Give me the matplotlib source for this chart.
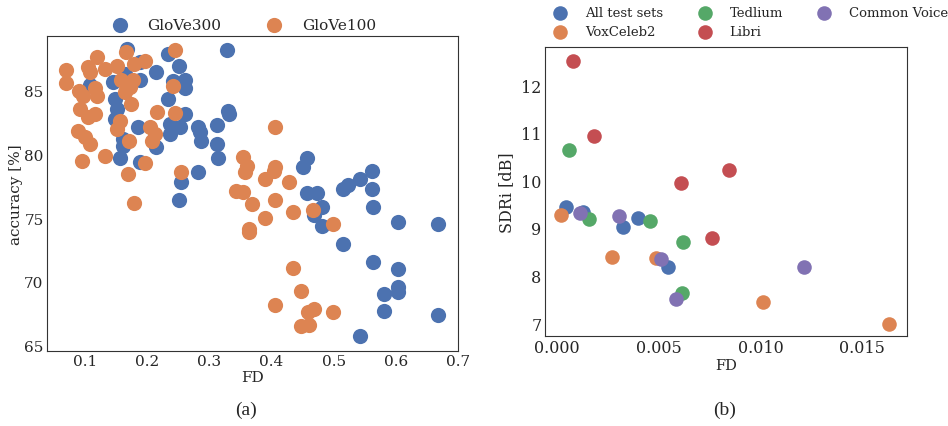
import matplotlib
matplotlib.use("Agg")
import matplotlib.pyplot as plt
import seaborn as sns

sns.set_style("white")
plt.rcParams['font.family'] = ['DejaVu Serif']

# ---------------- (a) data ----------------
glove300_fd = [0.168, 0.233, 0.328, 0.188, 0.251, 0.164, 0.214, 0.108, 0.145, 0.188,
               0.241, 0.261, 0.261, 0.148, 0.233, 0.151, 0.261, 0.330, 0.331, 0.148,
               0.185, 0.237, 0.253, 0.282, 0.312, 0.237, 0.285, 0.161, 0.287, 0.312,
               0.161, 0.214, 0.156, 0.188, 0.314, 0.282, 0.254, 0.251, 0.457, 0.450,
               0.457, 0.473, 0.515, 0.523, 0.542, 0.561, 0.561, 0.481, 0.468, 0.563,
               0.481, 0.603, 0.668, 0.515, 0.563, 0.603, 0.581, 0.603, 0.603, 0.581,
               0.668, 0.542]
glove300_acc = [88.3, 87.9, 88.2, 87.3, 87.0, 86.3, 86.5, 85.5, 85.7, 85.9,
                85.8, 85.9, 85.2, 84.4, 84.4, 83.6, 83.2, 83.4, 83.2, 82.8,
                82.2, 82.4, 82.2, 82.2, 82.3, 81.6, 81.8, 81.2, 81.1, 80.8,
                80.7, 80.6, 79.7, 79.4, 79.7, 78.6, 77.8, 76.4, 79.7, 79.0,
                77.0, 77.0, 77.3, 77.6, 78.1, 78.7, 77.3, 75.9, 75.2, 75.9,
                74.4, 74.7, 74.5, 72.95, 71.5, 71.0, 69.0, 69.6, 69.2, 67.7,
                67.4, 65.7]

glove100_fd = [0.166, 0.245, 0.119, 0.196, 0.179, 0.105, 0.108, 0.132, 0.151, 0.069,
               0.069, 0.158, 0.177, 0.241, 0.090, 0.116, 0.119, 0.097, 0.164, 0.172,
               0.092, 0.174, 0.116, 0.105, 0.216, 0.245, 0.156, 0.151, 0.205, 0.405,
               0.089, 0.100, 0.108, 0.2125, 0.208, 0.171, 0.095, 0.132, 0.196, 0.354,
               0.360, 0.357, 0.405, 0.389, 0.169, 0.254, 0.343, 0.354, 0.428, 0.404,
               0.179, 0.368, 0.405, 0.389, 0.364, 0.364, 0.434, 0.467, 0.499, 0.434,
               0.447, 0.405, 0.4585, 0.468, 0.499, 0.447, 0.460]
glove100_acc = [88.1, 88.2, 87.7, 87.4, 87.1, 86.9, 86.5, 86.7, 87.0, 86.65,
                85.6, 85.9, 85.9, 85.4, 85.0, 85.2, 84.6, 84.6, 84.9, 85.3,
                83.6, 84.0, 83.2, 82.95, 83.35, 83.3, 82.6, 82.0, 82.2, 82.2,
                81.85, 81.4, 80.8, 81.6, 81.1, 81.1, 79.5, 79.9, 79.3, 79.8,
                79.1, 78.6, 79.0, 78.1, 78.5, 78.6, 77.1, 77.05, 77.8, 78.7,
                76.2, 76.1, 76.4, 75.0, 73.9, 74.1, 75.5, 75.6, 74.5, 71.1,
                69.25, 68.15, 67.6, 67.8, 67.6, 66.5, 66.6]

# ---------------- (b) data ----------------
series_names = ["All test sets", "VoxCeleb2", "Tedlium", "Libri", "Common Voice"]
all_fd = [0.00044, 0.00128, 0.00324, 0.00398, 0.00546]
all_sdri = [9.44, 9.34, 9.02, 9.21, 8.18]
vox_fd = [0.0002, 0.0027, 0.00487, 0.01013, 0.01632]
vox_sdri = [9.27, 8.39, 8.37, 7.45, 6.98]
ted_fd = [0.00059, 0.00157, 0.00457, 0.0062, 0.00615]
ted_sdri = [10.64, 9.19, 9.15, 8.71, 7.63]
libri_fd = [0.00079, 0.00182, 0.0061, 0.00846, 0.00762]
libri_sdri = [12.51, 10.93, 9.95, 10.22, 8.79]
cv_fd = [0.00113, 0.00305, 0.00511, 0.00585, 0.01215]
cv_sdri = [9.32, 9.25, 8.35, 7.51, 8.18]

pal = sns.color_palette("deep")

fig = plt.figure(figsize=(9.48, 4.27), dpi=100)

# ---- left panel ----
axa = fig.add_axes([47/948, 1-352/427, 411/948, 315/427])
axa.scatter(glove300_fd, glove300_acc, s=120, color=pal[0], label="GloVe300", linewidths=0)
axa.scatter(glove100_fd, glove100_acc, s=120, color=pal[1], label="GloVe100", linewidths=0)
axa.set_xlim(0.039, 0.7)
axa.set_ylim(64.53, 89.33)
axa.set_xticks([0.1, 0.2, 0.3, 0.4, 0.5, 0.6, 0.7])
axa.set_yticks([65, 70, 75, 80, 85])
axa.tick_params(labelsize=11, length=0, pad=2.5)
axa.set_xlabel("FD", fontsize=11, labelpad=1)
axa.set_ylabel("accuracy [%]", fontsize=11, labelpad=0.5)
axa.legend(ncol=2, loc="center", bbox_to_anchor=(0.47, 1.035), frameon=False,
           fontsize=11, handletextpad=0.8, columnspacing=2.5, borderpad=0, borderaxespad=0)
for sp in axa.spines.values():
    sp.set_color("0.2")

# ---- right panel ----
axb = fig.add_axes([545/948, 1-337/427, 362/948, 289/427])
xs = [all_fd, vox_fd, ted_fd, libri_fd, cv_fd]
ys = [all_sdri, vox_sdri, ted_sdri, libri_sdri, cv_sdri]
for i, (name, x, y) in enumerate(zip(series_names, xs, ys)):
    axb.scatter(x, y, s=110, color=pal[i], label=name, linewidths=0)
axb.set_xlim(-0.00059, 0.0172)
axb.set_ylim(6.73, 12.80)
axb.set_xticks([0.0, 0.005, 0.010, 0.015])
axb.set_xticklabels(["0.000", "0.005", "0.010", "0.015"])
axb.set_yticks([7, 8, 9, 10, 11, 12])
axb.tick_params(labelsize=11.5, length=0, pad=2.5)
axb.set_xlabel("FD", fontsize=10.5, labelpad=1)
axb.set_ylabel("SDRi [dB]", fontsize=11.5, labelpad=4)
axb.legend(ncol=3, loc="center", bbox_to_anchor=(0.56, 1.086), frameon=False,
           fontsize=9.5, handletextpad=0.9, columnspacing=2.1, borderpad=0,
           borderaxespad=0, labelspacing=0.45)
for sp in axb.spines.values():
    sp.set_color("0.2")

fig.text(246/948, 1-410/427, "(a)", ha="center", va="center",
         fontsize=14, family="Liberation Serif")
fig.text(725/948, 1-410/427, "(b)", ha="center", va="center",
         fontsize=14, family="Liberation Serif")

fig.savefig("out.png", dpi=100)
